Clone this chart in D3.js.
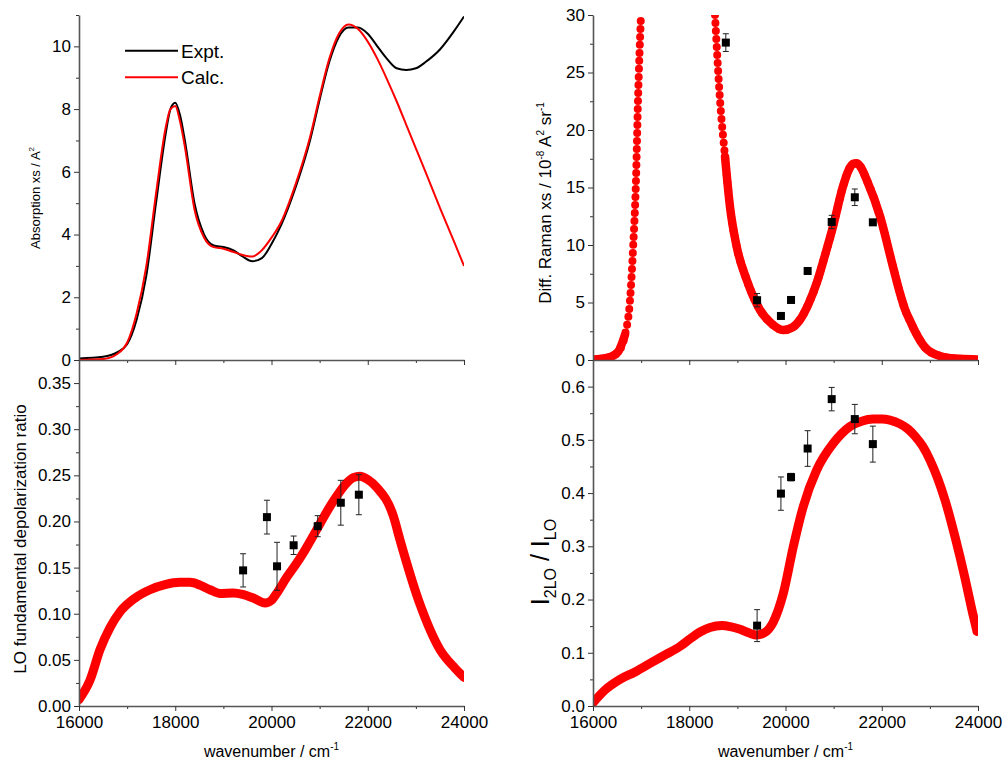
<!DOCTYPE html>
<html><head><meta charset="utf-8">
<script src="https://cdn.jsdelivr.net/npm/d3@7"></script>
<style>
body{margin:0;background:#fff}
text{font-family:"Liberation Sans",Arial,sans-serif;fill:#000}
</style>
</head><body>
<svg id="c" width="1005" height="763"></svg>
<script>
// ---------- DATA ----------
// Absorption (top-left)
const absW = [16000,16500,16800,17000,17200,17400,17600,17800,17900,18000,18100,18200,18400,18600,18800,19000,19200,19400,19600,19800,20000,20200,20500,20800,21000,21200,21400,21600,21800,22000,22200,22400,22600,22800,23000,23200,23500,23800,24000];
const absExpt = [0.05,0.1,0.25,0.5,1.3,2.7,5.0,7.2,8.0,8.2,7.8,7.0,5.0,4.0,3.65,3.6,3.5,3.3,3.15,3.25,3.7,4.3,5.5,7.0,8.3,9.5,10.3,10.6,10.6,10.4,10.0,9.6,9.3,9.25,9.3,9.5,9.9,10.5,10.95];
const absCalc = [0.0,0.03,0.2,0.55,1.5,3.0,5.3,7.4,8.0,8.1,7.6,6.8,4.8,3.9,3.6,3.55,3.45,3.35,3.3,3.5,3.9,4.4,5.6,7.1,8.4,9.6,10.4,10.7,10.55,10.15,9.6,8.95,8.25,7.5,6.75,6.0,4.85,3.75,3.0];
const legendLabels = ["Expt.","Calc."];

// Diff. Raman cross section (top-right); null = off scale
const ramanW = [16000,16145,16353,16520,16665,16769,16831,16893,16935,16997,17750,18535,18639,18743,18847,18986,19194,19470,19700,19948,20150,20301,20480,20649,20820,20987,21195,21300,21403,21480,21560,21688,21964,22234,22379,22483,22600,22691,22899,23211,23626,24000];
const ramanV = [0.05,0.1,0.25,0.7,2.2,5.2,9.6,15.6,22.6,30,null,30,22.6,17.7,13.3,9.85,6.96,4.35,3.2,2.6,2.85,3.5,4.9,6.7,9.1,11.6,15.1,16.4,17.05,17.1,16.8,15.65,12.5,8.1,5.8,4.4,3.3,2.5,1.1,0.35,0.1,0.05];

// Experimental points
const ptW = [18760,19410,19905,20115,20460,20960,21440,21815];
const ramanPt = [27.6,5.2,3.83,5.22,7.74,12.0,14.15,11.97];
const ramanErr = [0.77,0.58,0.15,0.2,0.25,0.58,0.72,0.25];

// LO depolarization ratio (bottom-left)
const depolW = [16000,16229,16436,16644,16852,17164,17475,17787,18100,18306,18514,18722,18930,19206,19400,19622,19865,20000,20100,20316,20500,20661,20850,21008,21200,21355,21550,21700,21839,22000,22186,22531,22670,23087,23502,23813,24000];
const depolV = [0.007,0.028,0.061,0.085,0.102,0.117,0.126,0.1315,0.134,0.134,0.131,0.126,0.122,0.1225,0.121,0.117,0.1116,0.1145,0.1215,0.1395,0.153,0.166,0.183,0.1975,0.215,0.2275,0.241,0.2475,0.249,0.2455,0.237,0.206,0.18,0.11,0.061,0.041,0.031];
const depolPt = [0.147,0.2047,0.1514,0.1742,0.1949,0.2203,0.229];
const depolErr = [0.018,0.0183,0.026,0.01,0.0114,0.0243,0.0217];

// I2LO / ILO (bottom-right)
const ratioW = [16000,16249,16561,16873,17184,17496,17808,18016,18223,18431,18680,18850,19055,19250,19401,19550,19747,19955,20163,20370,20649,20993,21170,21340,21580,21824,22000,22171,22379,22550,22691,22850,23003,23160,23314,23522,23730,23875,23979];
const ratioV = [0.006,0.03,0.05,0.064,0.08,0.096,0.112,0.126,0.139,0.1475,0.151,0.149,0.144,0.137,0.1335,0.137,0.158,0.2118,0.2995,0.375,0.4436,0.4937,0.512,0.525,0.535,0.539,0.539,0.537,0.53,0.52,0.507,0.488,0.462,0.428,0.387,0.318,0.24,0.18,0.14];
const ratioPt = [0.151,0.399,0.43,0.4837,0.5765,0.539,0.492];
const ratioErr = [0.03,0.0313,0.007,0.0335,0.022,0.0276,0.0338];

const xTicks = [16000,18000,20000,22000,24000];
const xMinor = [17000,19000,21000,23000];

// ---------- LAYOUT ----------
const svg = d3.select("#c");
const FS = 17;
const colX = {L:[79,464], R:[593,978]};
const rowY = {T:[360,15], B:[706,360]};

function makePanel(col,row,yDomain,yMajor,yMinor,yFmt,showX){
  const x = d3.scaleLinear().domain([16000,24000]).range(colX[col]);
  const y = d3.scaleLinear().domain(yDomain).range(rowY[row]);
  const g = svg.append("g");
  const id = "clip"+col+row;
  svg.append("clipPath").attr("id",id).append("rect")
    .attr("x",colX[col][0]).attr("y",rowY[row][1]).attr("width",colX[col][1]-colX[col][0]).attr("height",rowY[row][0]-rowY[row][1]);
  const plot = g.append("g").attr("clip-path",`url(#${id})`);
  g.append("g").attr("transform",`translate(${colX[col][0]},0)`)
    .call(d3.axisLeft(y).tickValues(yMinor).tickSize(3).tickSizeOuter(0).tickFormat(""))
    .call(a=>a.select(".domain").remove());
  g.append("g").attr("transform",`translate(0,${rowY[row][0]})`)
    .call(d3.axisBottom(x).tickValues(xMinor).tickSize(3).tickSizeOuter(0).tickFormat(""))
    .call(a=>a.select(".domain").remove());
  const ya = g.append("g").attr("transform",`translate(${colX[col][0]},0)`)
    .call(d3.axisLeft(y).tickValues(yMajor).tickSize(5).tickSizeOuter(0).tickPadding(3).tickFormat(yFmt));
  const xa = g.append("g").attr("transform",`translate(0,${rowY[row][0]})`)
    .call(d3.axisBottom(x).tickValues(xTicks).tickSize(5).tickSizeOuter(0).tickPadding(5).tickFormat(showX? d3.format("d"):""));
  [ya,xa].forEach(a=>{
    a.selectAll("text").attr("font-size",FS).attr("font-family",'"Liberation Sans",Arial,sans-serif').attr("fill","#000");
    a.select(".domain").attr("stroke","#555").attr("stroke-width",1.6);
  });
  g.selectAll(".tick line").attr("stroke","#333").attr("stroke-width",1);
  return {x,y,g,plot};
}

function thickLine(p,W,V,width){
  const data = W.map((w,i)=>({w,v:V[i]}));
  p.plot.append("path").datum(data)
    .attr("d",d3.line().x(d=>p.x(d.w)).y(d=>p.y(d.v)).curve(d3.curveMonotoneX))
    .attr("fill","none").attr("stroke","#ff0000").attr("stroke-width",width)
    .attr("stroke-linecap","round").attr("stroke-linejoin","round");
}

function points(p,W,V,E){
  const data = W.map((w,i)=>({w,v:V[i],e:E[i]}));
  const gg = p.g.append("g");
  const eb = gg.selectAll("g.eb").data(data).join("g").attr("stroke","#222").attr("stroke-width",1);
  eb.append("line").attr("x1",d=>p.x(d.w)).attr("x2",d=>p.x(d.w)).attr("y1",d=>p.y(d.v-d.e)).attr("y2",d=>p.y(d.v+d.e));
  eb.append("line").attr("x1",d=>p.x(d.w)-3).attr("x2",d=>p.x(d.w)+3).attr("y1",d=>p.y(d.v-d.e)).attr("y2",d=>p.y(d.v-d.e));
  eb.append("line").attr("x1",d=>p.x(d.w)-3).attr("x2",d=>p.x(d.w)+3).attr("y1",d=>p.y(d.v+d.e)).attr("y2",d=>p.y(d.v+d.e));
  gg.selectAll("rect").data(data).join("rect")
    .attr("x",d=>p.x(d.w)-4).attr("y",d=>p.y(d.v)-4).attr("width",8).attr("height",8).attr("fill","#000");
}

function rotLabel(cx,cy,parts){
  const t = svg.append("text").attr("transform",`translate(${cx},${cy}) rotate(-90)`).attr("text-anchor","middle");
  parts.forEach(pt=>{
    t.append("tspan").attr("font-size",pt.s).attr("dy",pt.dy||0).text(pt.t);
  });
  return t;
}

// ---------- TOP-LEFT ----------
const pTL = makePanel("L","T",[0,11],[0,2,4,6,8,10],[1,3,5,7,9,11],d3.format("d"),false);
{
  const line = d3.line().x((d,i)=>pTL.x(absW[i])).y(d=>pTL.y(d)).curve(d3.curveMonotoneX);
  pTL.plot.append("path").attr("d",line(absExpt)).attr("fill","none").attr("stroke","#000").attr("stroke-width",2);
  pTL.plot.append("path").attr("d",line(absCalc)).attr("fill","none").attr("stroke","#ff0000").attr("stroke-width",2);
  const lg = svg.append("g");
  const cols = ["#000","#ff0000"];
  legendLabels.forEach((lab,i)=>{
    const yy = 50.7 + i*26.6;
    lg.append("line").attr("x1",125).attr("x2",178).attr("y1",yy).attr("y2",yy).attr("stroke",cols[i]).attr("stroke-width",2);
    lg.append("text").attr("x",181).attr("y",yy+7).attr("font-size",19).text(lab);
  });
}
rotLabel(40,198,[{t:"Absorption xs / A",s:13},{t:"2",s:8,dy:-6}]);

// ---------- TOP-RIGHT ----------
const pTR = makePanel("R","T",[0,30],[0,5,10,15,20,25,30],[2.5,7.5,12.5,17.5,22.5,27.5],d3.format("d"),false);
{
  const data = ramanW.map((w,i)=>({w,v:ramanV[i]}));
  const lineAll = d3.line().defined(d=>d.v!=null).x(d=>pTR.x(d.w)).y(d=>pTR.y(d.v)).curve(d3.curveMonotoneX);
  pTR.plot.append("path").attr("d",lineAll(data)).attr("fill","none").attr("stroke","#ff0000")
    .attr("stroke-width",8).attr("stroke-linecap","round").attr("stroke-dasharray","0 8");
  const lineSolid = d3.line().defined(d=>d.v!=null && (d.w<17750 ? d.v<=5 : d.v<=18))
    .x(d=>pTR.x(d.w)).y(d=>pTR.y(d.v)).curve(d3.curveMonotoneX);
  pTR.plot.append("path").attr("d",lineSolid(data)).attr("fill","none").attr("stroke","#ff0000")
    .attr("stroke-width",8.5).attr("stroke-linecap","round").attr("stroke-linejoin","round");
  points(pTR,ptW,ramanPt,ramanErr);
}
rotLabel(551,203,[{t:"Diff. Raman xs / 10",s:FS},{t:"-8",s:10,dy:-7},{t:" A",s:FS,dy:7},{t:"2",s:10,dy:-7},{t:" sr",s:FS,dy:7},{t:"-1",s:10,dy:-7}]);

// ---------- BOTTOM-LEFT ----------
const pBL = makePanel("L","B",[0,0.375],[0,0.05,0.1,0.15,0.2,0.25,0.3,0.35],[0.025,0.075,0.125,0.175,0.225,0.275,0.325,0.375],d3.format(".2f"),true);
thickLine(pBL,depolW,depolV,9);
points(pBL,ptW.slice(1),depolPt,depolErr);
rotLabel(26,539,[{t:"LO fundamental depolarization ratio",s:FS}]);

// ---------- BOTTOM-RIGHT ----------
const pBR = makePanel("R","B",[0,0.65],[0,0.1,0.2,0.3,0.4,0.5,0.6],[0.05,0.15,0.25,0.35,0.45,0.55,0.65],d3.format(".1f"),true);
thickLine(pBR,ratioW,ratioV,9);
points(pBR,ptW.slice(1),ratioPt,ratioErr);
rotLabel(549,562,[{t:"I",s:25},{t:"2LO",s:16,dy:7},{t:" / I",s:25,dy:-7},{t:"LO",s:16,dy:7}]);

// x labels
[["L",271.5],["R",785.5]].forEach(([c,cx])=>{
  const t = svg.append("text").attr("x",cx).attr("y",757).attr("text-anchor","middle").attr("font-size",16);
  t.append("tspan").text("wavenumber / cm");
  t.append("tspan").attr("font-size",10).attr("dy",-7).text("-1");
});
</script>
</body></html>
